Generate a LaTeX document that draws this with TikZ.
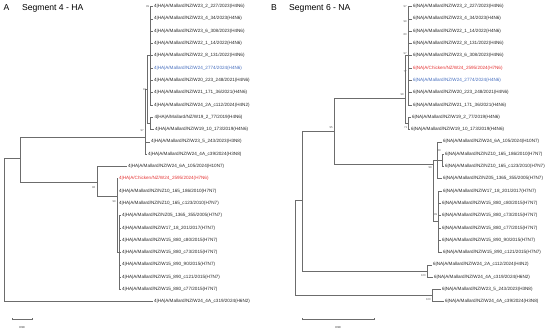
\documentclass[tikz,border=0pt]{standalone}
\usepackage{fontspec}
\setmainfont{Liberation Sans}
\usepackage{tikz}
\usetikzlibrary{arrows.meta, positioning}

\newcommand{\leaffont}{\fontsize{4.6}{5}\selectfont}
\newcommand{\bootfont}{\fontsize{2.8}{3}\selectfont}
\definecolor{hitred}{RGB}{228,50,50}
\definecolor{hitblue}{RGB}{70,110,190}

\tikzset{
    br/.style={draw=gray!85!black, line width=0.6pt},
    leaf/.style={anchor=west, inner sep=1.3pt, font=\leaffont, text=black!85},
    boot/.style={anchor=east, inner sep=0.6pt, font=\bootfont, text=gray!70!black},
    ttl/.style={anchor=west, inner sep=0pt, font=\fontsize{8.6}{10}\selectfont},
}

\begin{document}
\begin{tikzpicture}[x=1pt, y=-1pt]
    \useasboundingbox (0,0) rectangle (550,332);

    % ---- A: Segment 4 - HA ----
    \node[ttl, anchor=center] (haLetter) at (6.5,8) {A};
    \node[ttl] (haTitle) at (22,8) {Segment 4 - HA};

    \node[leaf] (a1) at (152.5,6.5) {4|HA|A/Mallard/NZ/W23\_2\_227/2023(H4N6)};
    \node[leaf] (a2) at (152.5,18.8) {4|HA|A/Mallard/NZ/W23\_4\_34/2023(H4N6)};
    \node[leaf] (a3) at (152.5,31.1) {4|HA|A/Mallard/NZ/W23\_6\_308/2023(H4N6)};
    \node[leaf] (a4) at (152.5,43.4) {4|HA|A/Mallard/NZ/W22\_1\_14/2022(H4N6)};
    \node[leaf] (a5) at (152.5,55.7) {4|HA|A/Mallard/NZ/W22\_8\_131/2022(H4N6)};
    \node[leaf, text=hitblue] (a6) at (152.5,68.0) {4|HA|A/Mallard/NZ/W24\_2774/2024(H4N6)};
    \node[leaf] (a7) at (152.5,80.3) {4|HA|A/Mallard/NZ/W20\_223\_248/2021(H4N6)};
    \node[leaf] (a8) at (152.5,92.6) {4|HA|A/Mallard/NZ/W21\_171\_36/2021(H4N6)};
    \node[leaf] (a9) at (152.5,104.9) {4|HA|A/Mallard/NZ/W24\_2A\_c112/2024(H4N2)};
    \node[leaf] (a10) at (153,117.2) {4|HA|A/Mallard/NZ/W19\_2\_77/2019(H4N6)};
    \node[leaf] (a11) at (153.5,129.5) {4|HA|A/Mallard/NZ/W19\_10\_173/2019(H4N6)};
    \node[leaf] (a12) at (149.5,141.8) {4|HA|A/Mallard/NZ/W23\_5\_243/2023(H3N8)};
    \node[leaf] (a13) at (146.5,154.1) {4|HA|A/Mallard/NZ/W24\_4A\_c39/2024(H3N8)};
    \node[leaf] (a14) at (126.5,166.4) {4|HA|A/Mallard/NZ/W24\_6A\_105/2024(H10N7)};
    \node[leaf, text=hitred] (a15) at (117.5,178.7) {4|HA|A/Chicken/NZ/W24\_2595/2024(H7N6)};
    \node[leaf] (a16) at (117.5,191.0) {4|HA|A/Mallard/NZ/NZ10\_165\_186/2010(H7N7)};
    \node[leaf] (a17) at (117.5,203.3) {4|HA|A/Mallard/NZ/NZ10\_165\_c123/2010(H7N7)};
    \node[leaf] (a18) at (120.5,215.6) {4|HA|A/Mallard/NZ/NZ05\_1365\_355/2005(H7N7)};
    \node[leaf] (a19) at (120.5,227.9) {4|HA|A/Mallard/NZ/W17\_18\_201/2017(H7N7)};
    \node[leaf] (a20) at (120.5,240.2) {4|HA|A/Mallard/NZ/W15\_880\_c80/2015(H7N7)};
    \node[leaf] (a21) at (120.5,252.5) {4|HA|A/Mallard/NZ/W15\_880\_c73/2015(H7N7)};
    \node[leaf] (a22) at (120.5,264.8) {4|HA|A/Mallard/NZ/W15\_890\_90/2015(H7N7)};
    \node[leaf] (a23) at (120.5,277.1) {4|HA|A/Mallard/NZ/W15\_890\_c121/2015(H7N7)};
    \node[leaf] (a24) at (120.5,289.4) {4|HA|A/Mallard/NZ/W15\_880\_c77/2015(H7N7)};
    \node[leaf] (a25) at (152.5,301.7) {4|HA|A/Mallard/NZ/W24\_4A\_c319/2024(H6N2)};

    \coordinate (haRoot) at (4.7,230);
    \coordinate (haN1) at (20.7,158);
    \coordinate (haH4) at (145,137);
    \coordinate (haH4s) at (147.5,89.5);
    \coordinate (haTop) at (150,55.7);
    \coordinate (haW19) at (150.5,123.35);
    \coordinate (haH7) at (97,182);
    \coordinate (haH7a) at (117,196);
    \coordinate (haH7b) at (119,252.5);

    \draw[br] (haRoot) |- (haN1);
    \draw[br] (haRoot) |- (a25.west);
    \draw[br] (haN1) |- (haH4);
    \draw[br] (haN1) |- (haH7);
    \draw[br] (haH4) |- (haH4s);
    \draw[br] (haH4) |- (a12.west);
    \draw[br] (haH4) |- (a13.west);
    \draw[br] (haH4s) |- (haTop);
    \draw[br] (haH4s) |- (haW19);
    \foreach \i in {1,...,9} \draw[br] (haTop) |- (a\i.west);
    \draw[br] (haW19) |- (a10.west);
    \draw[br] (haW19) |- (a11.west);
    \draw[br] (haH7) |- (a14.west);
    \draw[br] (haH7) |- (haH7a);
    \foreach \i in {15,16,17} \draw[br] (haH7a) |- (a\i.west);
    \draw[br] (haH7a) |- (haH7b);
    \foreach \i in {18,...,24} \draw[br] (haH7b) |- (a\i.west);

    \node[boot] (haB1) at (150,6.5) {99};
    \node[boot] (haB2) at (147,89.5) {91};
    \node[boot] (haB3) at (144.5,131) {97};
    \node[boot] (haB4) at (96,188) {98};
    \node[boot] (haB5) at (116.5,202) {99};

    % scale bar A
    \coordinate (haSb1) at (12,319);
    \coordinate (haSb2) at (32,319);
    \draw[br, line width=0.5pt, {|[width=2pt]}-{|[width=2pt]}] (haSb1) -- (haSb2);
    \node[font=\bootfont, inner sep=0pt] (haSbl) at (22,328) {0.50};

    % ---- B: Segment 6 - NA ----
    \node[ttl, anchor=center] (naLetter) at (274,8) {B};
    \node[ttl] (naTitle) at (289,8) {Segment 6 - NA};

    \node[leaf] (b1) at (411.5,6.5) {6|NA|A/Mallard/NZ/W23\_2\_227/2023(H4N6)};
    \node[leaf] (b2) at (411.5,18.8) {6|NA|A/Mallard/NZ/W23\_4\_34/2023(H4N6)};
    \node[leaf] (b3) at (411.5,31.1) {6|NA|A/Mallard/NZ/W22\_1\_14/2022(H4N6)};
    \node[leaf] (b4) at (411.5,43.4) {6|NA|A/Mallard/NZ/W22\_8\_131/2022(H4N6)};
    \node[leaf] (b5) at (411.5,55.7) {6|NA|A/Mallard/NZ/W23\_6\_308/2023(H4N6)};
    \node[leaf, text=hitred] (b6) at (411.5,68.0) {6|NA|A/Chicken/NZ/W24\_2595/2024(H7N6)};
    \node[leaf, text=hitblue] (b7) at (411.5,80.3) {6|NA|A/Mallard/NZ/W24\_2774/2024(H4N6)};
    \node[leaf] (b8) at (411.5,92.6) {6|NA|A/Mallard/NZ/W20\_223\_248/2021(H4N6)};
    \node[leaf] (b9) at (411.5,104.9) {6|NA|A/Mallard/NZ/W21\_171\_36/2021(H4N6)};
    \node[leaf] (b10) at (410.5,117.2) {6|NA|A/Mallard/NZ/W19\_2\_77/2019(H4N6)};
    \node[leaf] (b11) at (409.5,129.5) {6|NA|A/Mallard/NZ/W19\_10\_173/2019(H4N6)};
    \node[leaf] (b12) at (441.5,141.8) {6|NA|A/Mallard/NZ/W24\_6A\_105/2024(H10N7)};
    \node[leaf] (b13) at (443.5,154.1) {6|NA|A/Mallard/NZ/NZ10\_165\_186/2010(H7N7)};
    \node[leaf] (b14) at (443.5,166.4) {6|NA|A/Mallard/NZ/NZ10\_165\_c123/2010(H7N7)};
    \node[leaf] (b15) at (441.5,178.7) {6|NA|A/Mallard/NZ/NZ05\_1365\_355/2005(H7N7)};
    \node[leaf] (b16) at (441.5,191.0) {6|NA|A/Mallard/NZ/W17\_18\_201/2017(H7N7)};
    \node[leaf] (b17) at (440.5,203.3) {6|NA|A/Mallard/NZ/W15\_880\_c80/2015(H7N7)};
    \node[leaf] (b18) at (440.5,215.6) {6|NA|A/Mallard/NZ/W15\_880\_c73/2015(H7N7)};
    \node[leaf] (b19) at (440.5,227.9) {6|NA|A/Mallard/NZ/W15\_880\_c77/2015(H7N7)};
    \node[leaf] (b20) at (440.5,240.2) {6|NA|A/Mallard/NZ/W15\_890\_90/2015(H7N7)};
    \node[leaf] (b21) at (441.5,252.5) {6|NA|A/Mallard/NZ/W15\_890\_c121/2015(H7N7)};
    \node[leaf] (b22) at (431.5,264.8) {6|NA|A/Mallard/NZ/W24\_2A\_c112/2024(H4N2)};
    \node[leaf] (b23) at (432.5,277.1) {6|NA|A/Mallard/NZ/W24\_4A\_c319/2024(H6N2)};
    \node[leaf] (b24) at (440.5,289.4) {6|NA|A/Mallard/NZ/W23\_5\_243/2023(H3N8)};
    \node[leaf] (b25) at (443.5,301.7) {6|NA|A/Mallard/NZ/W24\_4A\_c39/2024(H3N8)};

    \coordinate (naRoot) at (295,247);
    \coordinate (naN1) at (302,200);
    \coordinate (naN2) at (334,131);
    \coordinate (naH4) at (405,98);
    \coordinate (naTop) at (408,55.7);
    \coordinate (naW19) at (408.5,123.35);
    \coordinate (naH7) at (433,164);
    \coordinate (naH7a) at (437,160);
    \coordinate (naNZ10) at (442,160.25);
    \coordinate (naH7b) at (438.5,221.75);
    \coordinate (naN2b) at (427,270.95);
    \coordinate (naH3) at (432,295.55);

    \draw[br] (naRoot) |- (naN1);
    \draw[br] (naRoot) |- (naH3);
    \draw[br] (naN1) |- (naN2);
    \draw[br] (naN1) |- (naN2b);
    \draw[br] (naN2) |- (naH4);
    \draw[br] (naN2) |- (naH7);
    \draw[br] (naH4) |- (naTop);
    \draw[br] (naH4) |- (naW19);
    \foreach \i in {1,...,9} \draw[br] (naTop) |- (b\i.west);
    \draw[br] (naW19) |- (b10.west);
    \draw[br] (naW19) |- (b11.west);
    \draw[br] (naH7) |- (naH7a);
    \draw[br] (naH7) |- (naH7b);
    \draw[br] (naH7a) |- (b12.west);
    \draw[br] (naH7a) |- (naNZ10);
    \draw[br] (naH7a) |- (b15.west);
    \draw[br] (naNZ10) |- (b13.west);
    \draw[br] (naNZ10) |- (b14.west);
    \foreach \i in {16,...,21} \draw[br] (naH7b) |- (b\i.west);
    \draw[br] (naN2b) |- (b22.west);
    \draw[br] (naN2b) |- (b23.west);
    \draw[br] (naH3) |- (b24.west);
    \draw[br] (naH3) |- (b25.west);

    \node[boot] (naB1) at (407.5,6.5) {97};
    \node[boot] (naB2) at (407.5,22) {99};
    \node[boot] (naB3) at (407.5,35) {80};
    \node[boot] (naB4) at (407.5,54) {97};
    \node[boot] (naB5) at (407.5,72) {77};
    \node[boot] (naB6) at (404.5,95) {98};
    \node[boot] (naB7) at (408,128) {71};
    \node[boot] (naB8) at (333.5,128) {95};
    \node[boot] (naB9) at (441.5,151) {89};
    \node[boot] (naB10) at (432.5,168) {99};
    \node[boot] (naB11) at (438,215) {99};
    \node[boot] (naB12) at (426.5,276) {100};
    \node[boot] (naB13) at (431.5,300) {100};

    % scale bar B
    \coordinate (naSb1) at (302,319);
    \coordinate (naSb2) at (374,319);
    \draw[br, line width=0.5pt, {|[width=2pt]}-{|[width=2pt]}] (naSb1) -- (naSb2);
    \node[font=\bootfont, inner sep=0pt] (naSbl) at (338,328) {0.50};
\end{tikzpicture}
\end{document}
